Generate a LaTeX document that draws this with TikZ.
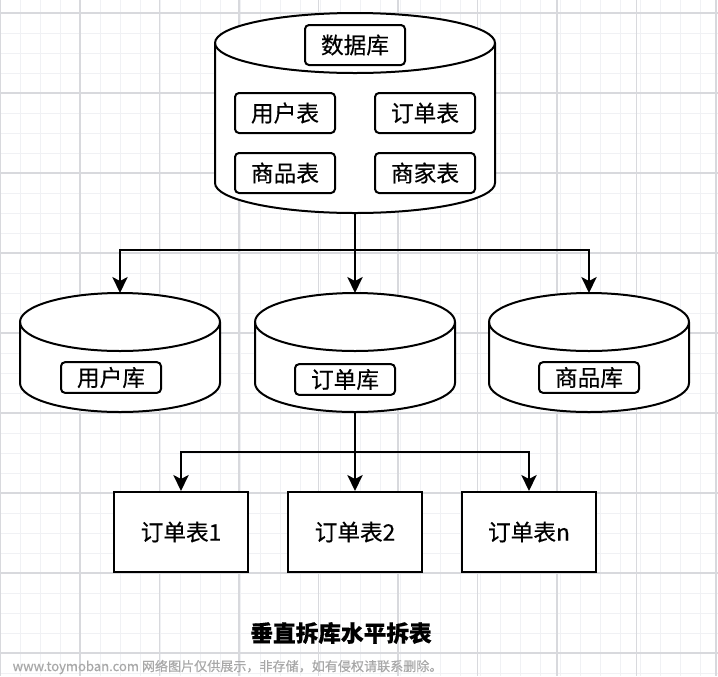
\documentclass[tikz,border=0pt]{standalone}
\usepackage{fontspec}
\setmainfont{Noto Sans CJK SC}[FakeBold=0.4]
\usetikzlibrary{arrows.meta,positioning}

\definecolor{gridmajor}{HTML}{D8D9DD}
\definecolor{gridminor}{HTML}{F0F1F4}
\definecolor{markgray}{HTML}{A8A8A8}

\tikzset{
  drumline/.style={line width=1.5pt},
  tag/.style={draw, line width=1.5pt, rounded corners=3pt, fill=white,
    minimum width=75pt, minimum height=30pt, inner sep=0pt},
  part/.style={draw, line width=1.5pt, fill=white,
    minimum width=100.5pt, minimum height=60pt, inner sep=0pt},
  arr/.style={line width=1.5pt, -{Stealth[length=12pt,width=11.5pt,inset=3pt]}},
}

% a database drum: name, centre x, top y, bottom y, half width, ellipse radius (px, y going down)
\newcommand{\dbdrum}[6]{%
  \draw[drumline, fill=white] (#2-#5,-#3-#6) -- (#2-#5,-#4+#6)
    arc[start angle=180, end angle=360, x radius=#5*0.75pt, y radius=#6*0.75pt]
    -- (#2+#5,-#3-#6)
    arc[start angle=0, end angle=180, x radius=#5*0.75pt, y radius=#6*0.75pt] -- cycle;
  \draw[drumline] (#2-#5,-#3-#6)
    arc[start angle=180, end angle=360, x radius=#5*0.75pt, y radius=#6*0.75pt];
  \coordinate (#1-top) at (#2,-#3);
  \coordinate (#1-bot) at (#2,-#4);
}

\begin{document}
\begin{tikzpicture}[x=0.75pt, y=0.75pt, font=\fontsize{17}{17}\selectfont]
\useasboundingbox (0,0) rectangle (718,-676);

% background grid
\fill[white] (0,0) rectangle (718,-676);
\foreach \x in {0,20,...,718} \draw[gridminor, line width=0.5pt] (\x,0) -- (\x,-676);
\foreach \y in {-13,-33,...,-676} \draw[gridminor, line width=0.5pt] (0,\y) -- (718,\y);
\foreach \x in {0.5,80,...,718} \draw[gridmajor, line width=0.8pt] (\x,0) -- (\x,-676);
\foreach \y in {-13,-93,...,-676} \draw[gridmajor, line width=0.8pt] (0,\y) -- (718,\y);

% drums
\dbdrum{db}{355}{13}{213}{140}{30}
\dbdrum{userdb}{120}{293}{412}{100}{29}
\dbdrum{orderdb}{355}{293}{412}{100}{29}
\dbdrum{goodsdb}{589}{293}{412}{100}{29}

% tables inside the big drum
\node[tag] (dbname) at (355,-45) {数据库};
\node[tag] (usertab) at (285,-113) {用户表};
\node[tag] (ordertab) at (425,-113) {订单表};
\node[tag] (goodstab) at (285,-173) {商品表};
\node[tag] (shoptab) at (425,-173) {商家表};

\node[tag, minimum height=23pt] (userlbl) at (111,-377.5) {用户库};
\node[tag, minimum height=23pt] (orderlbl) at (345,-379.5) {订单库};
\node[tag, minimum height=23pt] (goodslbl) at (589,-377.5) {商品库};

% split tables
\node[part] (part1) at (181,-532) {订单表1};
\node[part] (part2) at (355,-532) {订单表2};
\node[part] (partn) at (529,-532) {订单表n};

% connectors
\coordinate (fork1) at (355,-250);
\coordinate (fork2) at (355,-452);
\draw[arr] (db-bot) -- (fork1) -| (userdb-top);
\draw[arr] (fork1) -| (goodsdb-top);
\draw[arr] (fork1) -- (orderdb-top);

\draw[arr] (orderdb-bot) -- (fork2) -| (part1);
\draw[arr] (fork2) -| (partn);
\draw[arr] (fork2) -- (part2);

\node (title) at (341,-633) {\bfseries 垂直拆库水平拆表};
\node[anchor=west, text=markgray, font=\fontsize{9.8}{9.8}\selectfont] (mark) at (8,-667)
  {www.toymoban.com 网络图片仅供展示，非存储，如有侵权请联系删除。};
\end{tikzpicture}
\end{document}
